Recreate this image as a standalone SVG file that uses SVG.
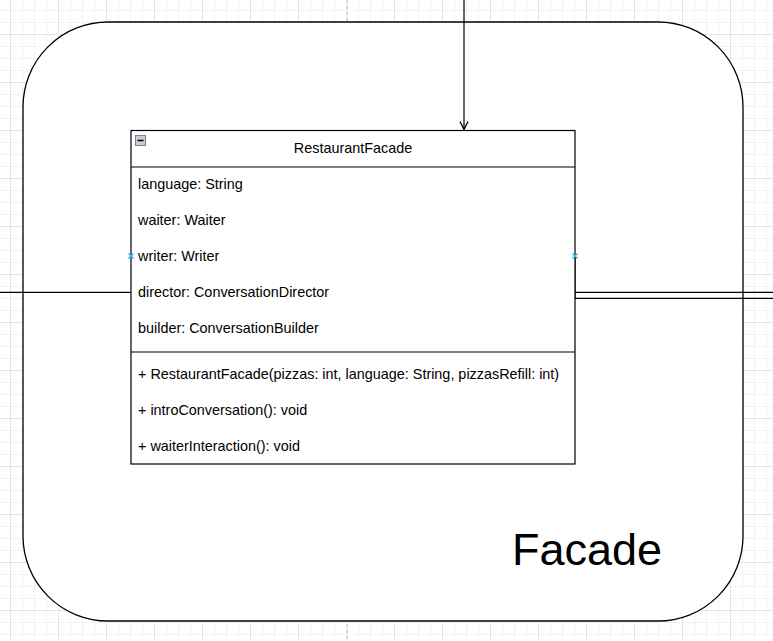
<svg xmlns="http://www.w3.org/2000/svg" width="773" height="641" viewBox="0 0 773 641">
<defs>
<style>
.t{font-family:"Liberation Sans",Arial,sans-serif;font-size:14.4px;fill:#000}
.ln{fill:none;stroke:#000;stroke-width:1.2}
.mk{stroke:#29b6f2;stroke-width:1.4}
</style>
<pattern id="gMinor" patternUnits="userSpaceOnUse" x="10" y="10" width="12" height="12">
<path d="M0.5,0V12M0,0.5H12" fill="none" stroke="#f2f2f2" stroke-width="1"/>
</pattern>
<pattern id="gMajor" patternUnits="userSpaceOnUse" x="10" y="34" width="48" height="48">
<path d="M0.5,0V48M0,0.5H48" fill="none" stroke="#e3e3e3" stroke-width="1"/>
</pattern>
<marker id="arr" viewBox="0 0 10 10" refX="9" refY="5" markerWidth="10" markerHeight="10" markerUnits="userSpaceOnUse" orient="auto">
<path d="M1,1 L9,5 L1,9" fill="none" stroke="#000" stroke-width="1.3"/>
</marker>
</defs>
<rect width="773" height="641" fill="#fff"/>
<rect width="773" height="641" fill="url(#gMinor)"/>
<rect width="773" height="641" fill="url(#gMajor)"/>
<line x1="347.5" y1="0" x2="347.5" y2="641" stroke="#c8c8c8" stroke-width="1" stroke-dasharray="3,3"/>
<g id="facade">
<rect x="23" y="22" width="720" height="599" rx="85" ry="85" fill="#fff" stroke="#000" stroke-width="1.3"/>
<text x="512" y="564.5" font-family="'Liberation Sans',Arial,sans-serif" font-size="45" fill="#000">Facade</text>
</g>
<g id="connectors">
<line class="ln" x1="464" y1="0" x2="464" y2="129.5" marker-end="url(#arr)"/>
<line class="ln" x1="0" y1="292.3" x2="131" y2="292.3"/>
<path class="ln" d="M575,256 V298.3 H773"/>
<line class="ln" x1="575" y1="292.3" x2="773" y2="292.3"/>
</g>
<g id="restaurantFacade">
<rect x="131" y="130.5" width="444" height="333.5" fill="#fff" stroke="#000" stroke-width="1.2"/>
<line x1="131" y1="167" x2="575" y2="167" stroke="#000" stroke-width="1.2"/>
<line x1="131" y1="352" x2="575" y2="352" stroke="#000" stroke-width="1.2"/>
<rect x="135.5" y="135.5" width="10" height="10" fill="#c8cdd6" stroke="#7a8290" stroke-width="1"/>
<line x1="137.5" y1="140.5" x2="143.5" y2="140.5" stroke="#000" stroke-width="1.5"/>
<text class="t" x="353" y="152.6" text-anchor="middle">RestaurantFacade</text>
<text class="t" x="138" y="189">language: String</text>
<text class="t" x="138" y="225">waiter: Waiter</text>
<text class="t" x="138" y="261">writer: Writer</text>
<text class="t" x="138" y="297">director: ConversationDirector</text>
<text class="t" x="138" y="333">builder: ConversationBuilder</text>
<text class="t" x="138" y="379">+ RestaurantFacade(pizzas: int, language: String, pizzasRefill: int)</text>
<text class="t" x="138" y="415">+ introConversation(): void</text>
<text class="t" x="138" y="451">+ waiterInteraction(): void</text>
</g>
<g id="markers">
<path class="mk" d="M128.5,253.5 L133.5,258.5 M133.5,253.5 L128.5,258.5"/>
<path class="mk" d="M572.5,253.5 L577.5,258.5 M577.5,253.5 L572.5,258.5"/>
</g>
</svg>
